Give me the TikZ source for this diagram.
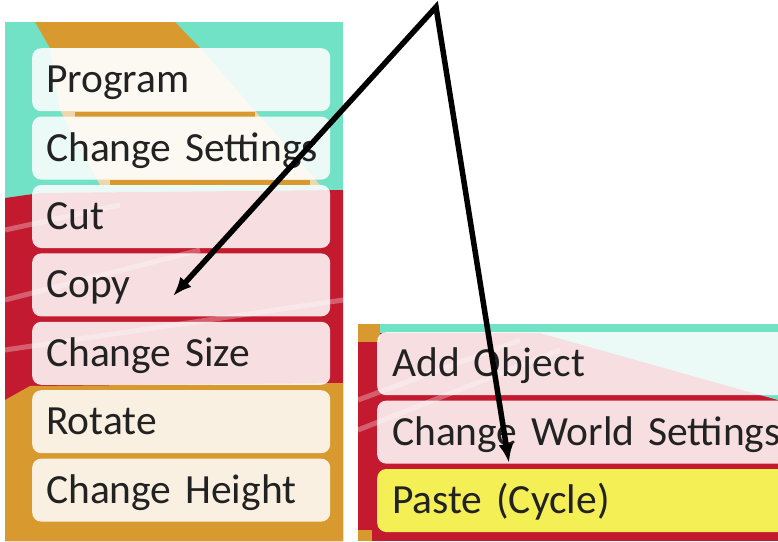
\documentclass[tikz,border=0pt]{standalone}
\usepackage{fontspec}
\setmainfont{Carlito}
\usetikzlibrary{arrows.meta,positioning}
\definecolor{aqua}{HTML}{72E2C6}
\definecolor{crimson}{HTML}{C41A30}
\definecolor{ochre}{HTML}{D8992F}
\definecolor{lemon}{HTML}{F3EF55}
\definecolor{ink}{HTML}{222222}
\tikzset{
  item/.style={
    rounded corners=9pt,fill=white,fill opacity=.86,text opacity=1,
    minimum height=63pt,text width=270pt,inner xsep=14pt,align=left,
    text height=26pt,text depth=0pt,text=ink,anchor=north west,
    font=\fontsize{41.5}{48}\selectfont
  },
  wideitem/.style={item,text width=420pt,inner xsep=15pt},
  streak/.style={draw=white,line width=5pt,opacity=.3},
  pointer/.style={{Latex[length=19pt,width=15pt]}-{Latex[length=19pt,width=15pt]},
    line width=5.5pt,draw=black,line join=miter}
}

\begin{document}
\begin{tikzpicture}[x=1pt,y=-1pt]
\useasboundingbox (0,0) rectangle (778,541);

% left screenshot
\begin{scope}
\clip (5,22) rectangle (343,541);
\fill[aqua] (5,22) rectangle (343,541);
\fill[ochre] (35,22) -- (175,22) -- (200,48) -- (50,48) -- cycle;
\fill[ochre!40!white] (50,48) -- (200,48) -- (320,185) -- (100,185) -- (60,110) -- cycle;
\fill[ochre] (75,112) rectangle (255,117);
\fill[ochre] (110,180) rectangle (310,185);
\fill[crimson] (5,198) -- (40,193) -- (343,190) -- (343,541) -- (5,541) -- cycle;
\fill[ochre] (5,400) -- (30,386) -- (343,383) -- (343,541) -- (5,541) -- cycle;
\draw[streak] (5,230) -- (120,205);
\draw[streak] (5,300) -- (200,250);
\draw[streak] (5,350) -- (343,300);
\end{scope}

% right screenshot
\begin{scope}
\clip (358,324) rectangle (778,541);
\fill[crimson] (358,324) rectangle (778,541);
\fill[aqua] (358,324) rectangle (778,333);
\fill[aqua] (540,333) -- (778,333) -- (778,400) -- cycle;
\fill[ochre] (358,324) rectangle (380,342);
\fill[ochre] (358,530) rectangle (372,541);
\draw[streak] (358,400) -- (520,340);
\draw[streak] (358,430) -- (560,350);
\end{scope}

\node[item] (program) at (32,48) {Program};
\node[item,below=5pt of program] (settings) {\mbox{Change Settings}};
\node[item,below=5pt of settings] (cut) {Cut};
\node[item,below=5pt of cut] (copy) {Copy};
\node[item,below=5pt of copy] (size) {Change Size};
\node[item,below=5pt of size] (rotate) {Rotate};
\node[item,below=5pt of rotate] (height) {\mbox{Change Height}};

\node[wideitem] (addobject) at (377,332) {Add Object};
\node[wideitem,below=5pt of addobject] (world) {\mbox{Change World Settings}};
\node[wideitem,below=5pt of world,fill=lemon,fill opacity=1] (paste) {Paste (Cycle)};

\coordinate (apex) at (436,7);
\coordinate (copytip) at (173,296);
\coordinate (pastetip) at (509,463);
\draw[pointer] (copytip) -- (apex) -- (pastetip);
\end{tikzpicture}
\end{document}
